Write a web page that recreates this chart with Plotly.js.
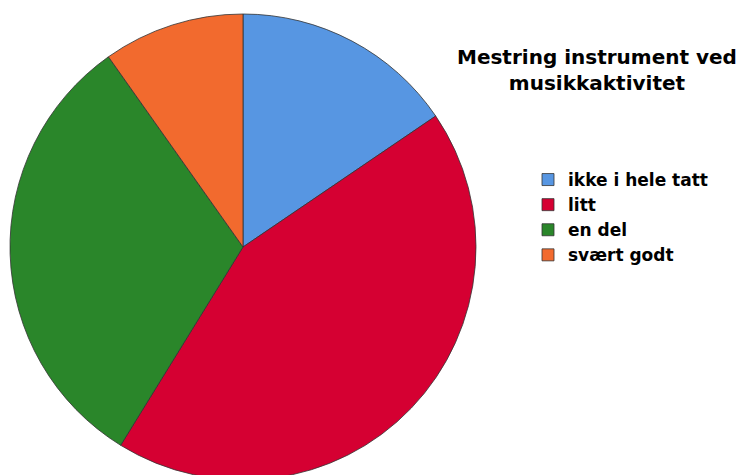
<!DOCTYPE html>
<html><head><meta charset="utf-8">
<script src="https://cdn.plot.ly/plotly-3.0.1.min.js"></script>
<style>html,body{margin:0;padding:0;overflow:hidden;background:#fff}</style>
</head><body><div id="chart"></div>
<script>
const categories = ['ikke i hele tatt', 'litt', 'en del', 'svært godt'];
const values = [15.5, 43.3, 31.4, 9.8];
const colors = ['#5796E2', '#D50032', '#2A862A', '#F26A2E'];
const titleText = 'Mestring instrument ved<br>musikkaktivitet';

const W = 742, H = 480;
const trace = {
  type: 'pie',
  labels: categories,
  values: values,
  sort: false,
  direction: 'clockwise',
  rotation: 0,
  textinfo: 'none',
  hoverinfo: 'label+percent',
  marker: {colors: colors, line: {color: '#333333', width: 0.8}},
  domain: {x: [10/W, 476/W], y: [0, (H-14)/H]}
};
const layout = {
  width: W, height: H,
  margin: {l: 0, r: 0, t: 0, b: 0},
  paper_bgcolor: '#ffffff',
  showlegend: true,
  legend: {
    x: 528/W, y: 1 - 162/H, xanchor: 'left', yanchor: 'top',
    font: {family: 'DejaVu Sans, sans-serif', size: 17, color: '#000', weight: 'bold'},
    itemwidth: 30, bgcolor: 'rgba(0,0,0,0)', tracegroupgap: 0
  },
  annotations: [{
    text: titleText, xref: 'paper', yref: 'paper',
    x: 597/W, y: 1 - 43/H, xanchor: 'center', yanchor: 'top',
    showarrow: false, align: 'center',
    font: {family: 'DejaVu Sans, sans-serif', size: 20, color: '#000', weight: 'bold'}
  }]
};
Plotly.newPlot('chart', [trace], layout, {displayModeBar: false, staticPlot: true});
</script></body></html>
